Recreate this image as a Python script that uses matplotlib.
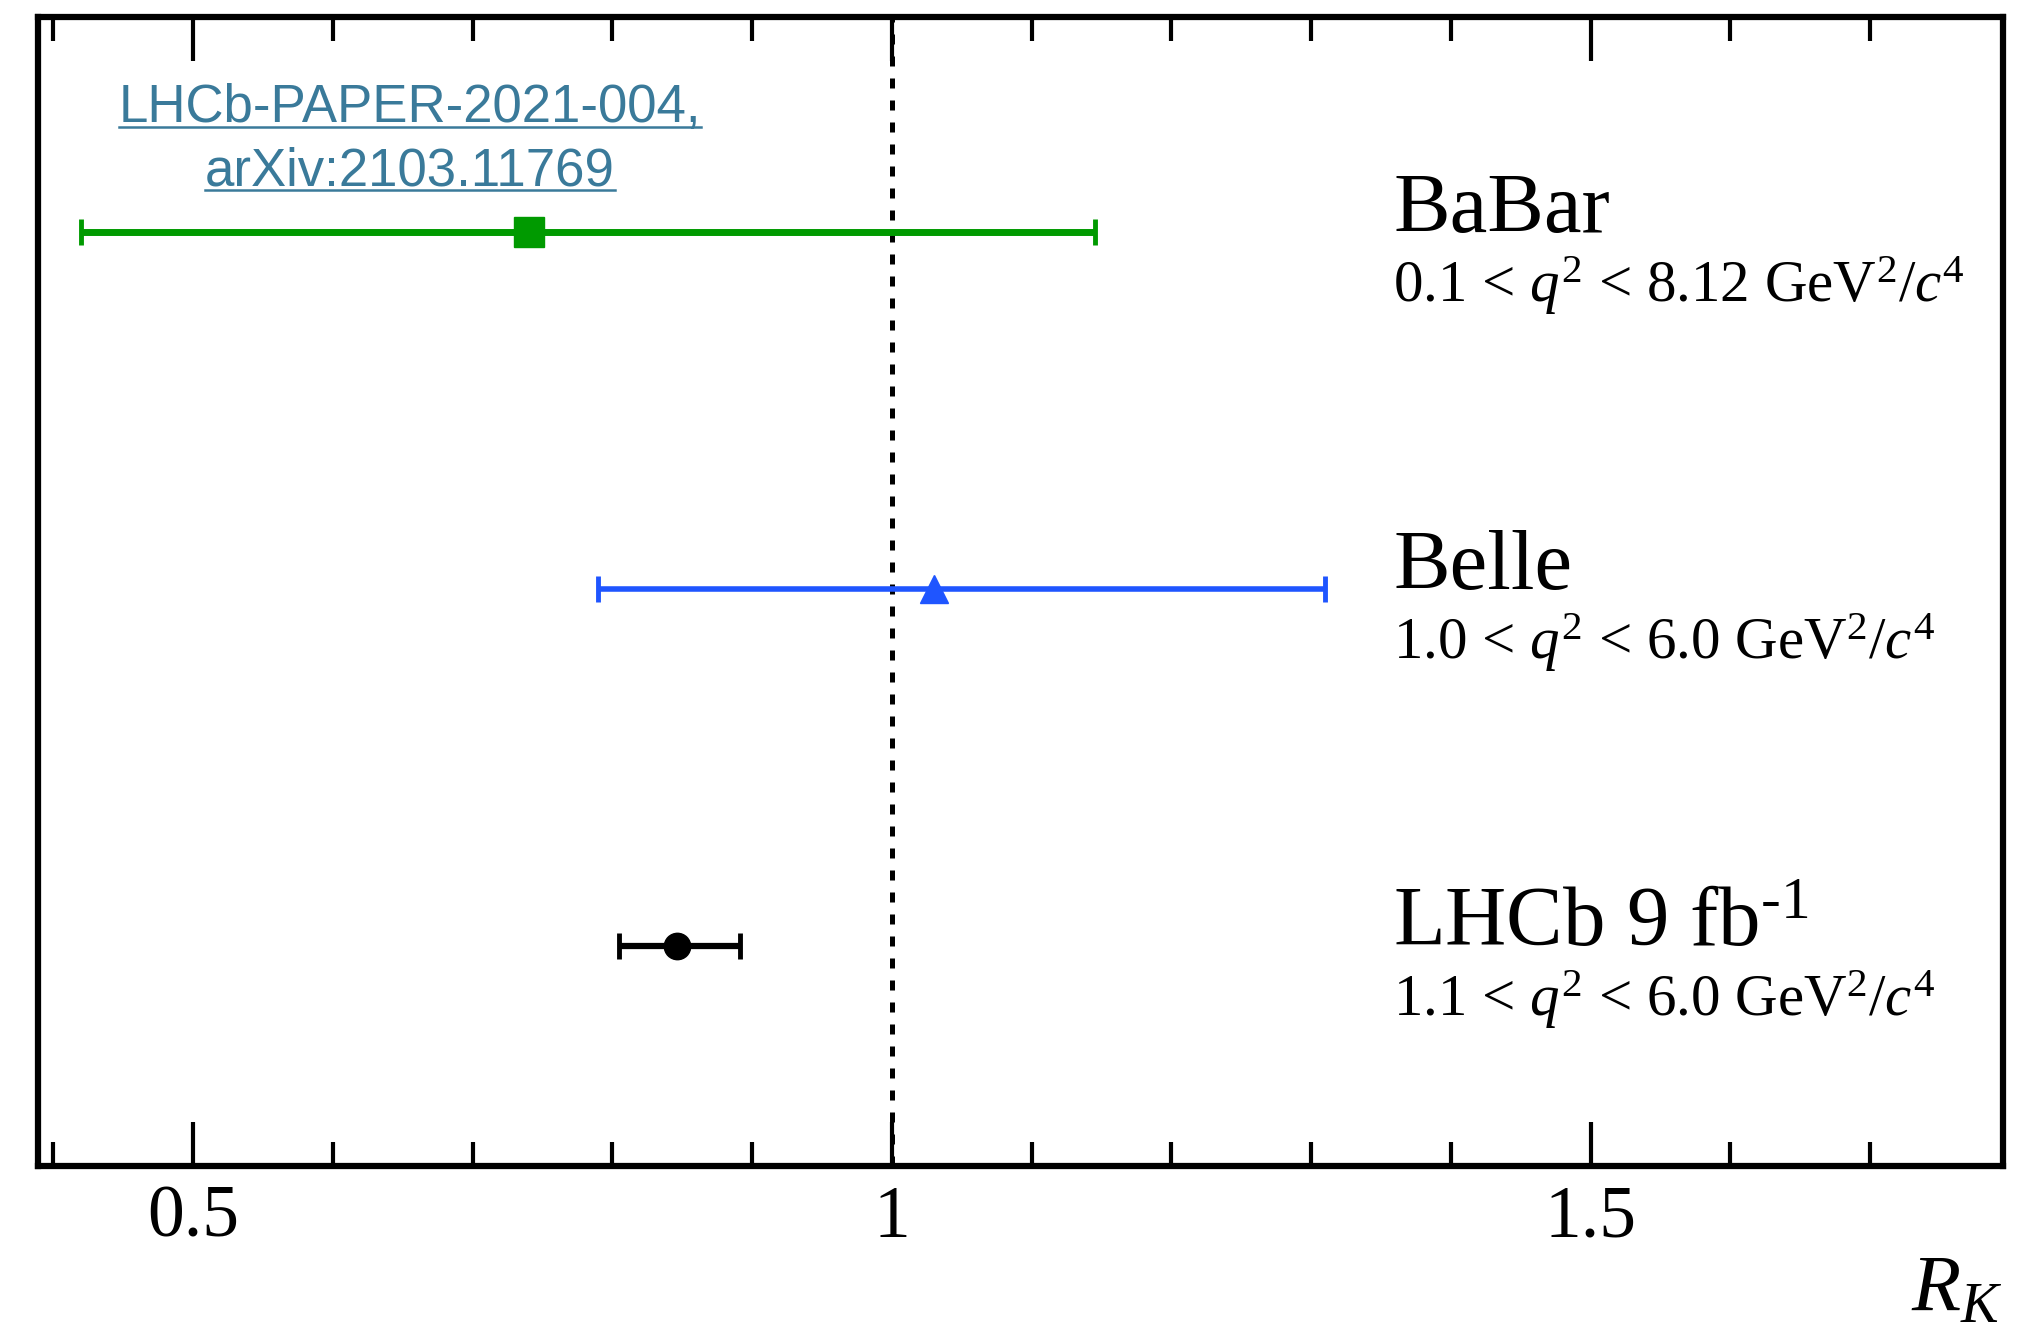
import matplotlib
matplotlib.use('Agg')
import matplotlib.pyplot as plt
from matplotlib.lines import Line2D
from matplotlib.ticker import MultipleLocator

plt.rcParams['font.family'] = ['Liberation Serif', 'DejaVu Serif']
plt.rcParams['mathtext.fontset'] = 'custom'
plt.rcParams['mathtext.rm'] = 'Liberation Serif'
plt.rcParams['mathtext.it'] = 'Liberation Serif:italic'

# R_K measurements (value, -err, +err), top to bottom
experiments = ['BaBar', 'Belle', r'LHCb 9 fb$^{\text{-1}}$']
q2_ranges = [r'0.1 < $q^2$ < 8.12 GeV$^2$/$c^4$',
             r'1.0 < $q^2$ < 6.0 GeV$^2$/$c^4$',
             r'1.1 < $q^2$ < 6.0 GeV$^2$/$c^4$']
rk_value = [0.74, 1.03, 0.846]
err_low = [0.32, 0.24, 0.041]
err_high = [0.405, 0.28, 0.045]
y_pos = [3, 2, 1]
colors = ['#009a00', '#1f55ff', 'black']
markers = ['s', '^', 'o']
msizes = [21, 20, 19]
lwidths = [5.0, 4.0, 4.5]

fig = plt.figure(figsize=(20.23, 13.32), dpi=100)
ax = fig.add_axes([0.0188, 0.1246, 0.9713, 0.8626])

# SM expectation
ax.axvline(1.0, color='black', lw=3.6, ls=(0, (2.0, 2.4)), zorder=1)

for i in range(len(experiments)):
    ax.errorbar(rk_value[i], y_pos[i], xerr=[[err_low[i]], [err_high[i]]],
                fmt=markers[i], color=colors[i], ms=msizes[i], lw=lwidths[i],
                capsize=9.5, capthick=3.5, zorder=3)
    ax.text(1.3586, y_pos[i], experiments[i], fontsize=61, va='baseline', ha='left')
    ax.text(1.3586, y_pos[i] - 0.197, q2_ranges[i], fontsize=42.5, va='baseline', ha='left')

ax.set_xlim(0.389, 1.795)
ax.set_ylim(0.384, 3.602)
ax.xaxis.set_major_locator(MultipleLocator(0.5))
ax.xaxis.set_minor_locator(MultipleLocator(0.1))
ax.xaxis.set_major_formatter(plt.FuncFormatter(lambda v, p: '%g' % v))
ax.set_yticks([])
ax.tick_params(axis='x', which='both', direction='in', top=True, bottom=True, width=3)
ax.tick_params(axis='x', which='major', length=32, labelsize=53, pad=14)
ax.tick_params(axis='x', which='minor', length=17)
for sp in ax.spines.values():
    sp.set_linewidth(4.5)

ax.text(1.0, -0.127, r'$R_K$', transform=ax.transAxes, fontsize=58,
        ha='right', va='baseline')

# reference link text, underlined
link_color = '#3a7a9a'
link_lines = ['LHCb-PAPER-2021-004,', 'arXiv:2103.11769']
link_base = [0.9084, 0.8611]
texts = []
for s, yb in zip(link_lines, link_base):
    texts.append(fig.text(0.2027, yb, s, fontsize=38, color=link_color,
                          family='Liberation Sans', ha='center', va='baseline'))
fig.canvas.draw()
r = fig.canvas.get_renderer()
for t, yb in zip(texts, link_base):
    bb = t.get_window_extent(r).transformed(fig.transFigure.inverted())
    yu = yb - 5.0 / 1332
    fig.add_artist(Line2D([bb.x0, bb.x1], [yu, yu], transform=fig.transFigure,
                          color=link_color, lw=1.8))

fig.savefig('out.png', dpi=100)
